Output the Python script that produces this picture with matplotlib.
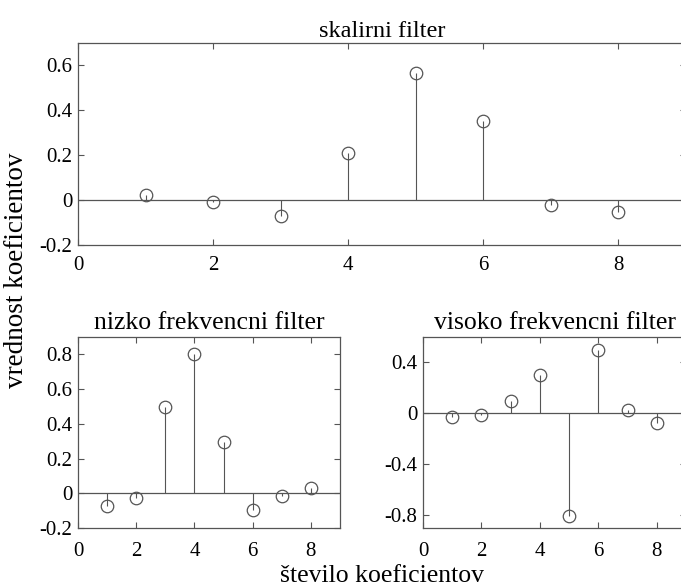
import matplotlib
matplotlib.use('Agg')
import matplotlib.pyplot as plt
import numpy as np

plt.rcParams['font.family'] = ['Liberation Serif', 'DejaVu Serif']
plt.rcParams['font.size'] = 15

n = [1, 2, 3, 4, 5, 6, 7, 8]
skalirni = [0.023, -0.009, -0.070, 0.211, 0.568, 0.352, -0.021, -0.054]
nizko = [-0.076, -0.030, 0.498, 0.804, 0.298, -0.099, -0.013, 0.032]
visoko = [-0.032, -0.013, 0.099, 0.298, -0.804, 0.498, 0.030, -0.076]

W, H = 681, 586
fig = plt.figure(figsize=(W / 100, H / 100), dpi=100)

def box(l, r, t, b):
    return [l / W, 1 - b / H, (r - l) / W, (b - t) / H]

lc = '#555555'

def stemplot(ax, y, ylim, yticks, title, tsize, pad, xpad):
    ax.plot([0, 9], [0, 0], color=lc, lw=0.9)
    ax.vlines(n, 0, y, color=lc, lw=0.8)
    ax.plot(n, y, 'o', mfc='none', mec=lc, ms=9, mew=0.9)
    ax.set_xlim(0, 9)
    ax.set_ylim(*ylim)
    ax.set_xticks([0, 2, 4, 6, 8])
    ax.set_yticks(yticks)
    ax.set_yticklabels(['0' if v == 0 else ('%g' % v) for v in yticks])
    ax.tick_params(direction='in', top=True, right=True, length=4,
                   color=lc, labelsize=15)
    ax.tick_params(axis='x', pad=xpad)
    ax.tick_params(axis='y', pad=4)
    for s in ax.spines.values():
        s.set_color(lc)
        s.set_linewidth(0.9)
    ax.set_title(title, fontsize=tsize, pad=pad)

ax1 = fig.add_axes(box(78, 686, 43, 245))
stemplot(ax1, skalirni, (-0.2, 0.7), [-0.2, 0, 0.2, 0.4, 0.6], 'skalirni filter', 17.5, 4, 8)

ax2 = fig.add_axes(box(78, 340, 337, 528))
stemplot(ax2, nizko, (-0.2, 0.9), [-0.2, 0, 0.2, 0.4, 0.6, 0.8], 'nizko frekvencni filter', 18.5, 6, 10)

ax3 = fig.add_axes(box(423, 686, 337, 528))
stemplot(ax3, visoko, (-0.9, 0.6), [-0.8, -0.4, 0, 0.4], 'visoko frekvencni filter', 18.5, 6, 10)

fig.text(382 / W, 1 - 576 / H, 'število koeficientov', ha='center', va='center', fontsize=18.5)
fig.text(17 / W, 1 - 270 / H, 'vrednost koeficientov', ha='center', va='center',
         rotation=90, fontsize=19.5)

fig.savefig('out.png', dpi=100)
